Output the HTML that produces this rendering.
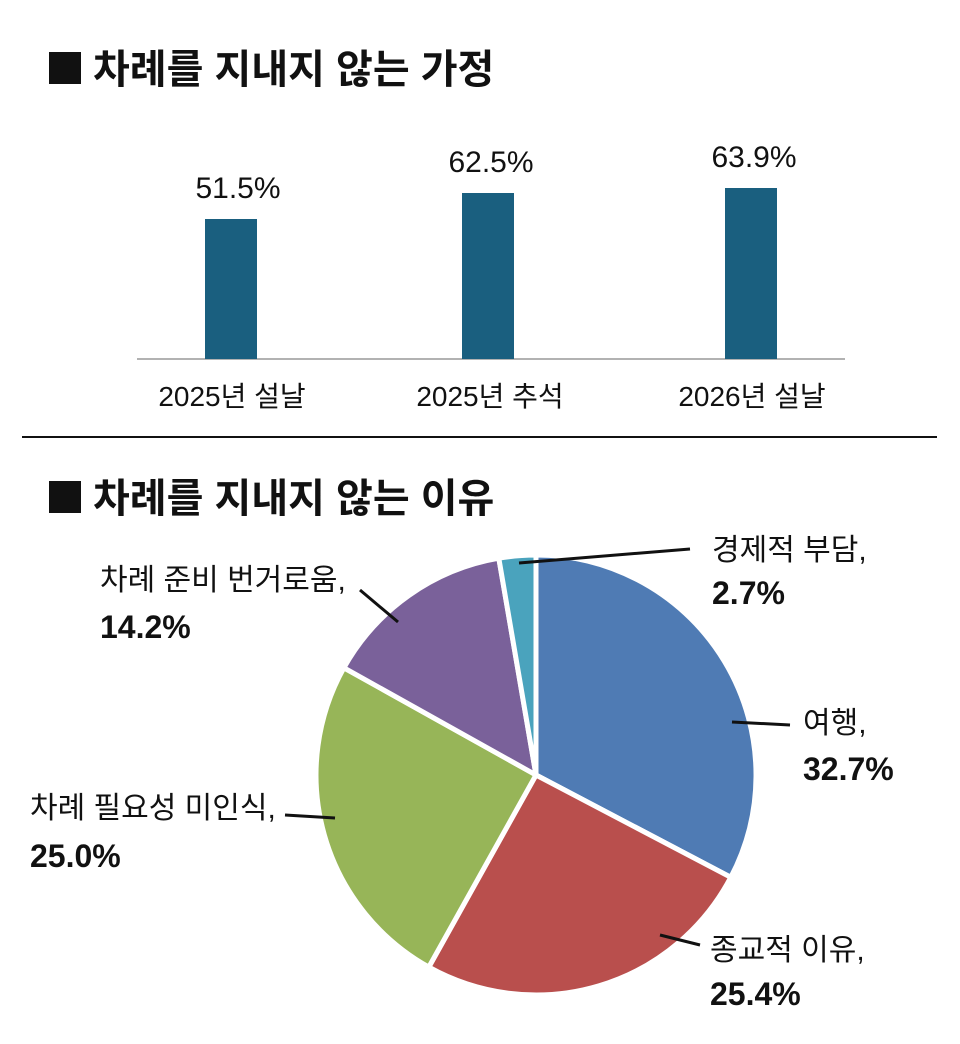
<!DOCTYPE html>
<html><head><meta charset="utf-8"><style>
body{margin:0;background:#fff;}
svg text{font-family:"Liberation Sans","Noto Sans CJK KR",sans-serif;fill:#111;}
</style></head><body>
<svg width="960" height="1039" viewBox="0 0 960 1039" xmlns="http://www.w3.org/2000/svg">
<rect x="49" y="52" width="32" height="32" fill="#111"/>
<text x="93" y="83" font-size="40" font-weight="bold">차례를 지내지 않는 가정</text>
<line x1="137" y1="359" x2="845" y2="359" stroke="#999" stroke-width="1.5"/>
<rect x="205" y="219" width="52" height="140" fill="#1a5f7f"/>
<rect x="462" y="193" width="52" height="166" fill="#1a5f7f"/>
<rect x="725" y="188" width="52" height="171" fill="#1a5f7f"/>
<g font-size="30" text-anchor="middle">
<text x="238" y="198">51.5%</text>
<text x="491" y="172">62.5%</text>
<text x="754" y="167">63.9%</text>
</g>
<g font-size="28" text-anchor="middle">
<text x="232" y="406">2025년 설날</text>
<text x="490" y="406">2025년 추석</text>
<text x="752" y="406">2026년 설날</text>
</g>
<line x1="22" y1="437" x2="937" y2="437" stroke="#111" stroke-width="2"/>
<rect x="49" y="481" width="32" height="32" fill="#111"/>
<text x="93" y="512" font-size="40" font-weight="bold">차례를 지내지 않는 이유</text>
<g stroke="#fff" stroke-width="5" stroke-linejoin="round">
<path d="M536,775 L536,555 A220,220 0 0,1 730.8,877.3 Z" fill="#4f7bb4"/>
<path d="M536,775 L730.8,877.3 A220,220 0 0,1 428.8,967.1 Z" fill="#b94f4d"/>
<path d="M536,775 L428.8,967.1 A220,220 0 0,1 343.9,667.8 Z" fill="#97b558"/>
<path d="M536,775 L343.9,667.8 A220,220 0 0,1 498.8,558.2 Z" fill="#7a619a"/>
<path d="M536,775 L498.8,558.2 A220,220 0 0,1 536,555 Z" fill="#4aa3bd"/>
</g>
<g stroke="#111" stroke-width="3">
<line x1="519" y1="563" x2="690" y2="549"/>
<line x1="732" y1="722" x2="790" y2="725"/>
<line x1="660" y1="935" x2="700" y2="945"/>
<line x1="285" y1="815" x2="335" y2="818"/>
<line x1="360" y1="590" x2="398" y2="622"/>
</g>
<g font-size="30">
<text x="712" y="560">경제적 부담,</text>
<text x="712" y="604" font-weight="bold" font-size="32">2.7%</text>
<text x="803" y="733">여행,</text>
<text x="803" y="780" font-weight="bold" font-size="32">32.7%</text>
<text x="710" y="960">종교적 이유,</text>
<text x="710" y="1005" font-weight="bold" font-size="32">25.4%</text>
<text x="30" y="818">차례 필요성 미인식,</text>
<text x="30" y="867" font-weight="bold" font-size="32">25.0%</text>
<text x="100" y="590">차례 준비 번거로움,</text>
<text x="100" y="638" font-weight="bold" font-size="32">14.2%</text>
</g>
</svg>
</body></html>
